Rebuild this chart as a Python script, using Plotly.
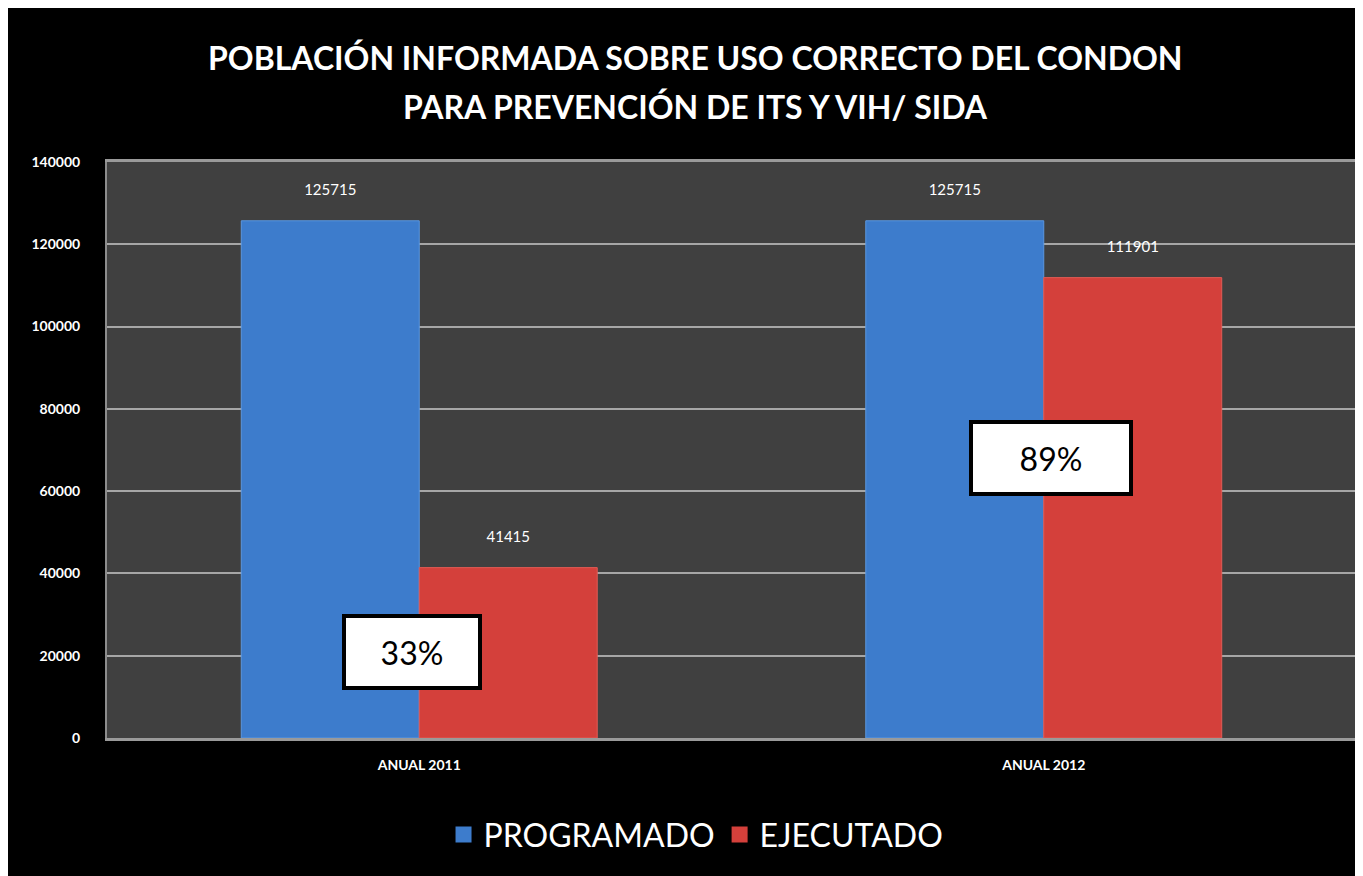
import plotly.graph_objects as go

# Data
categories = ['ANUAL 2011', 'ANUAL 2012']
programado = [125715, 125715]
ejecutado = [41415, 111901]
porcentajes = ['33%', '89%']
porcentaje_y = [20800, 68000]
y_ticks = [0, 20000, 40000, 60000, 80000, 100000, 120000, 140000]
title_lines = ['POBLACIÓN INFORMADA SOBRE USO CORRECTO DEL CONDON',
               'PARA PREVENCIÓN DE ITS Y VIH/ SIDA']

blue = '#3d7ccc'
red = '#d4403b'
font_name = 'Lato'

fig = go.Figure()

# Bars (legend shown through dummy square markers below)
# the trailing <br> lifts the value labels a little off the bar tops
fig.add_trace(go.Bar(x=categories, y=programado, name='PROGRAMADO',
                     marker=dict(color=blue, line=dict(color='#5a96e0', width=1)),
                     text=[str(v) for v in programado],
                     texttemplate='%{text}<br> ', textposition='outside',
                     textfont=dict(color='white', size=15, family=font_name),
                     cliponaxis=False, showlegend=False))
fig.add_trace(go.Bar(x=categories, y=ejecutado, name='EJECUTADO',
                     marker=dict(color=red, line=dict(color='#e05a55', width=1)),
                     text=[str(v) for v in ejecutado],
                     texttemplate='%{text}<br> ', textposition='outside',
                     textfont=dict(color='white', size=15, family=font_name),
                     cliponaxis=False, showlegend=False))

# Legend entries with big square symbols
for name, color in [('PROGRAMADO', blue), ('EJECUTADO', red)]:
    fig.add_trace(go.Scatter(x=[None], y=[None], mode='markers', name=name,
                             marker=dict(symbol='square', size=26, color=color)))

# Percentage boxes
for cat, txt, yv, dx, w in zip(categories, porcentajes, porcentaje_y, [-7, 7], [130, 154]):
    fig.add_annotation(x=cat, y=yv, xref='x', yref='y', text=txt, showarrow=False,
                       xshift=dx, font=dict(size=32, color='black', family=font_name),
                       bgcolor='white', bordercolor='black', borderwidth=4,
                       width=w, height=66)

# Two-line title
for line, yp in zip(title_lines, [1.182, 1.0955]):
    fig.add_annotation(x=0.471, y=yp, xref='paper', yref='paper', text=line,
                       showarrow=False, xanchor='center', yanchor='middle',
                       font=dict(size=32, color='white', family=font_name, weight='bold'))

fig.update_layout(
    width=1355, height=868,
    margin=dict(l=99, r=5, t=154, b=138),
    paper_bgcolor='black', plot_bgcolor='#404040',
    barmode='group', bargap=0.43, bargroupgap=0,
    legend=dict(orientation='h', x=0.4716, xanchor='center', y=-0.168, yanchor='middle',
                font=dict(size=32, color='white', family=font_name),
                itemwidth=30, bgcolor='rgba(0,0,0,0)'),
    font=dict(family=font_name, color='white'),
)

fig.update_yaxes(range=[0, 140000], tickvals=y_ticks, ticktext=[str(t) for t in y_ticks],
                 showgrid=True, gridcolor='#a6a6a6', gridwidth=2,
                 showline=True, linecolor='#8c8c8c', linewidth=2, mirror=True,
                 zeroline=False, ticklabelstandoff=22,
                 tickfont=dict(size=14, color='white', family=font_name, weight='bold'))
fig.update_xaxes(showline=True, linecolor='#9a9a9a', linewidth=3, mirror=True,
                 ticklabelstandoff=12,
                 tickfont=dict(size=14, color='white', family=font_name, weight='bold'))

fig.write_html('out.html')
